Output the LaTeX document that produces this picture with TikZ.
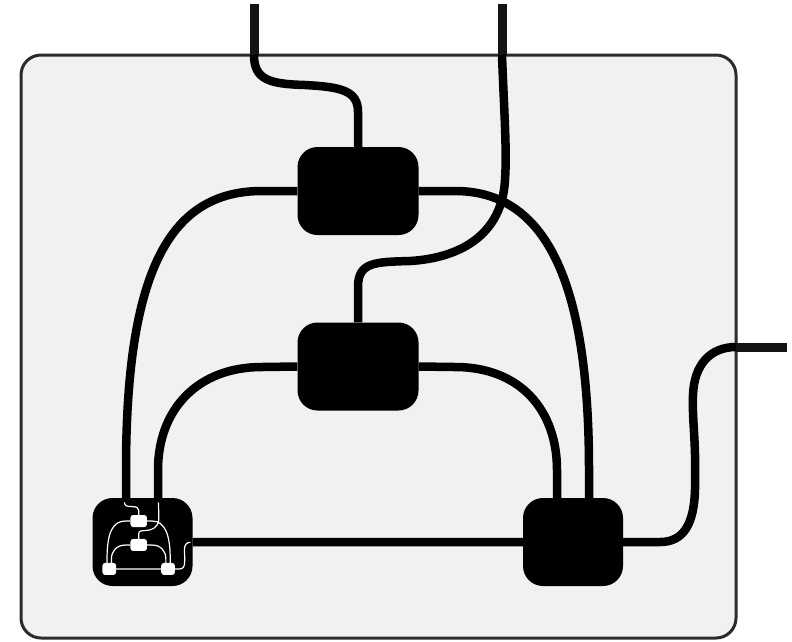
\documentclass[tikz,border=0pt]{standalone}
\usepackage{xcolor}
\usetikzlibrary{positioning}
\definecolor{panel}{HTML}{F1F1F1}
\definecolor{rim}{HTML}{2B2B2B}
\definecolor{lead}{HTML}{141414}
\tikzset{
	big node/.style={rounded corners=20,fill=black,minimum width=121,minimum height=88,inner sep=0pt},
	small node/.style={big node,minimum width=100},
	wire/.style={draw=black,line width=8.5pt},
	stub/.style={draw=lead,line width=9pt},
	inner node/.style={rounded corners=2.7,fill=white},
	inner wire/.style={draw=white,line width=1.2pt},
}
% #1 prefix of the names, #2 node look, #3 wire look
\newcommand{\wiring}[3]{
	\node[big node,#2] (#1t) at (358,191) {};
	\node[big node,#2] (#1m) at (358,366.5) {};
	\node[small node,#2] (#1l) at (142.5,542) {};
	\node[small node,#2] (#1r) at (573,542) {};
	\coordinate (#1a) at (254,55);
	\coordinate (#1b) at (502,55);
	\coordinate (#1c) at (736,347);

	\path[#3]
	(#1a) .. controls (254,80) and (270,84) .. (305,85) .. controls (340,87) and (358,90) .. (358,112) -- (#1t.north)
	(#1b) .. controls (504,110) and (507,150) .. (505,180) .. controls (502,235) and (460,258) .. (410,261) .. controls (375,262) and (358,262) .. (358,287) -- (#1m.north)
	(#1t.west) -- (262,191) .. controls (170,191) and (126,270) .. (126,470) -- ([xshift=-16.5]#1l.north)
	(#1t.east) -- (455,191) .. controls (550,191) and (589,290) .. (589,470) -- ([xshift=16]#1r.north)
	(#1m.west) -- (262,367) .. controls (197,367) and (158,410) .. (158,470) -- ([xshift=15.5]#1l.north)
	(#1m.east) -- (455,367) .. controls (520,367) and (557,410) .. (557,470) -- ([xshift=-16]#1r.north)
	(#1l.east) -- (#1r.west)
	(#1r.east) -- (660,542) .. controls (683,542) and (696,525) .. (695,480) .. controls (696,440) and (692,420) .. (693,395) .. controls (694,365) and (710,347) .. (#1c)
	;
}

\begin{document}
\begin{tikzpicture}[x=1pt,y=-1pt]
	\useasboundingbox (0,0) rectangle (792,641);
	\node[rounded corners=20,fill=panel,draw=rim,line width=3pt,minimum width=715,minimum height=583,inner sep=0pt] (frame) at (378.5,346.5) {};
	\coordinate (in1) at (254,4);
	\coordinate (in2) at (502,4);
	\coordinate (out) at (787,347);

	\wiring{}{}{wire}
	\path[stub]
	(in1) -- (a)
	(in2) -- (b)
	(c) -- (out)
	;

	\begin{scope}[shift={(138.7,521)},scale=.1365,shift={(-358,-191)},transform shape]
		\wiring{s}{inner node}{inner wire}
	\end{scope}
\end{tikzpicture}
\end{document}
